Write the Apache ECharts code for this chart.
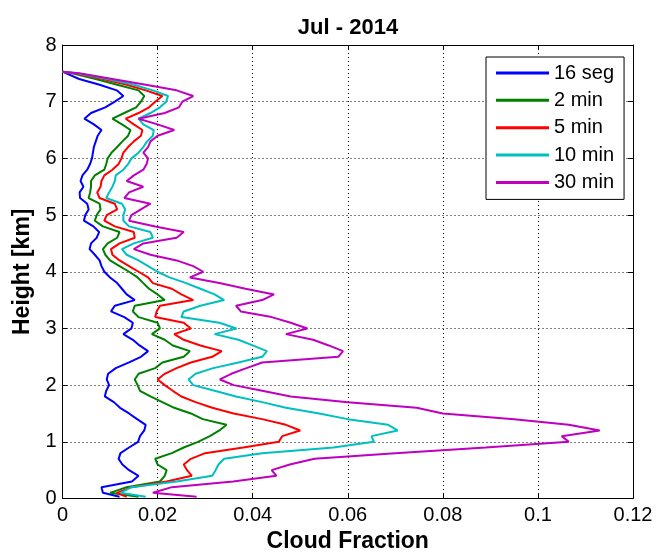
<!DOCTYPE html>
<html>
<head>
<meta charset="utf-8">
<script src="https://cdn.jsdelivr.net/npm/echarts@6/dist/echarts.min.js"></script>
<style>
html,body{margin:0;padding:0;background:#fff;}
#chart{width:657px;height:554px;}
</style>
</head>
<body>
<div id="chart"></div>
<script>
const heights = [0.03,0.1,0.2,0.3,0.4,0.5,0.6,0.7,0.8,0.9,1.0,1.1,1.2,1.3,1.4,1.5,1.6,1.7,1.8,1.9,2.0,2.1,2.2,2.3,2.4,2.5,2.6,2.7,2.8,2.9,3.0,3.1,3.2,3.3,3.4,3.5,3.6,3.7,3.8,3.9,4.0,4.1,4.2,4.3,4.4,4.5,4.6,4.7,4.8,4.9,5.0,5.1,5.2,5.3,5.4,5.5,5.6,5.7,5.8,5.9,6.0,6.1,6.2,6.3,6.4,6.5,6.6,6.7,6.8,6.9,7.0,7.1,7.2,7.3,7.4,7.5,7.53];

const seg16 = [0.012,0.0085,0.0082,0.0146,0.016,0.014,0.0126,0.0118,0.0122,0.014,0.0159,0.0163,0.0172,0.0175,0.0157,0.014,0.0121,0.0108,0.0089,0.0092,0.0098,0.0093,0.0096,0.0112,0.014,0.0165,0.018,0.0162,0.0148,0.0128,0.0145,0.0148,0.013,0.0102,0.011,0.0152,0.0135,0.0125,0.0115,0.01,0.0088,0.0082,0.0078,0.0068,0.0057,0.006,0.0072,0.0077,0.0065,0.0045,0.0048,0.0055,0.0052,0.0037,0.0036,0.0044,0.0038,0.0042,0.0052,0.0058,0.0062,0.0064,0.0066,0.007,0.0074,0.0082,0.0066,0.0046,0.006,0.009,0.011,0.0128,0.0114,0.0078,0.0035,0.0008,0];

const min2 = [0.016,0.01,0.0135,0.0205,0.0215,0.0219,0.02,0.0195,0.023,0.0255,0.0285,0.031,0.033,0.0345,0.0295,0.027,0.0235,0.021,0.0185,0.0163,0.0158,0.0152,0.016,0.0195,0.021,0.0255,0.0268,0.0232,0.0215,0.0188,0.0205,0.02,0.016,0.0148,0.0152,0.0215,0.02,0.0182,0.017,0.0158,0.014,0.012,0.01,0.009,0.0085,0.0095,0.0115,0.012,0.0085,0.0068,0.0072,0.008,0.0078,0.0055,0.0058,0.006,0.006,0.0068,0.0088,0.0092,0.0095,0.0103,0.0115,0.0126,0.0138,0.0143,0.0125,0.0105,0.013,0.0155,0.0165,0.0172,0.016,0.0115,0.007,0.002,0];

const min5 = [0.0135,0.0114,0.0145,0.0219,0.0272,0.0262,0.0255,0.027,0.03,0.038,0.0455,0.0462,0.05,0.047,0.042,0.036,0.0315,0.028,0.025,0.0232,0.0215,0.02,0.0215,0.024,0.027,0.0315,0.0335,0.029,0.0255,0.0235,0.027,0.0255,0.0195,0.0198,0.0205,0.0275,0.025,0.023,0.019,0.018,0.016,0.014,0.012,0.0105,0.0102,0.012,0.0152,0.015,0.011,0.0088,0.0093,0.0115,0.011,0.0078,0.0073,0.008,0.0082,0.0088,0.0105,0.0118,0.0124,0.0128,0.0138,0.015,0.0165,0.0168,0.015,0.0133,0.016,0.0182,0.0195,0.021,0.0175,0.0135,0.0085,0.0025,0];

const min10 = [0.0175,0.0122,0.0145,0.024,0.0315,0.0322,0.0328,0.034,0.042,0.057,0.0655,0.065,0.0705,0.0685,0.06,0.054,0.047,0.042,0.0365,0.032,0.0275,0.0265,0.028,0.0317,0.037,0.042,0.043,0.04,0.037,0.032,0.0366,0.033,0.025,0.0255,0.029,0.034,0.032,0.029,0.026,0.0225,0.02,0.018,0.016,0.0135,0.0125,0.015,0.019,0.0185,0.014,0.0128,0.0128,0.0132,0.0125,0.0092,0.0098,0.0105,0.011,0.0112,0.0128,0.0138,0.0145,0.016,0.017,0.0178,0.019,0.0192,0.017,0.016,0.0185,0.0205,0.0218,0.0222,0.019,0.015,0.0095,0.003,0];

const min30 = [0.0282,0.019,0.023,0.0359,0.045,0.044,0.0478,0.053,0.07,0.089,0.1065,0.105,0.113,0.1065,0.095,0.08,0.0745,0.06,0.048,0.042,0.036,0.0331,0.0355,0.0387,0.042,0.058,0.059,0.056,0.0527,0.047,0.0515,0.048,0.044,0.0375,0.0365,0.042,0.0445,0.0385,0.033,0.0268,0.0296,0.0275,0.024,0.0185,0.015,0.017,0.024,0.0255,0.0195,0.014,0.0145,0.0165,0.0185,0.013,0.014,0.017,0.0135,0.015,0.017,0.0177,0.018,0.017,0.018,0.0185,0.02,0.0235,0.02,0.016,0.0215,0.0245,0.0252,0.0275,0.024,0.0175,0.0105,0.0035,0];

const seriesNames = ['16 seg','2 min','5 min','10 min','30 min'];
const seriesValues = [seg16, min2, min5, min10, min30];
const seriesColors = ['#0000ff','#008000','#ff0000','#00bfbf','#bf00bf'];
const xTicks = {min: 0, max: 0.12, interval: 0.02};
const yTicks = {min: 0, max: 8, interval: 1};

const FONT = 'Liberation Sans, Arial, sans-serif';
const chart = echarts.init(document.getElementById('chart'), null, {renderer: 'canvas'});

const gridRect = {left: 62.5, right: 24, top: 45, bottom: 55.5, containLabel: false, outerBoundsMode: 'none'};

function xAx(pos, labels) {
  return {
    type: 'value', position: pos, min: xTicks.min, max: xTicks.max, interval: xTicks.interval,
    axisLine: {show: true, onZero: false, lineStyle: {color: '#000', width: 1}},
    axisTick: {show: true, inside: true, length: 5, lineStyle: {color: '#000'}},
    axisLabel: {show: labels, color: '#000', fontFamily: FONT, fontSize: 20, margin: 7},
    splitLine: {show: labels, lineStyle: {color: '#000', width: 1, type: [1, 3]}},
    name: labels ? 'Cloud Fraction' : '', nameLocation: 'middle', nameGap: 31,
    nameTextStyle: {color: '#000', fontFamily: FONT, fontSize: 23, fontWeight: 'bold'}
  };
}
function yAx(pos, labels) {
  return {
    type: 'value', position: pos, min: yTicks.min, max: yTicks.max, interval: yTicks.interval,
    axisLine: {show: true, onZero: false, lineStyle: {color: '#000', width: 1}},
    axisTick: {show: true, inside: true, length: 5, lineStyle: {color: '#000'}},
    axisLabel: {show: labels, color: '#000', fontFamily: FONT, fontSize: 20, margin: 6},
    splitLine: {show: labels, lineStyle: {color: '#000', width: 1, type: [1, 3]}},
    name: labels ? 'Height [km]' : '', nameLocation: 'middle', nameGap: 25,
    nameTextStyle: {color: '#000', fontFamily: FONT, fontSize: 23, fontWeight: 'bold'}
  };
}

const option = {
  animation: false,
  backgroundColor: '#fff',
  title: {
    text: 'Jul - 2014', left: 343, top: 12, textAlign: 'center',
    textStyle: {color: '#000', fontFamily: FONT, fontSize: 22, fontWeight: 'bold'}
  },
  grid: gridRect,
  xAxis: [xAx('bottom', true), xAx('top', false)],
  yAxis: [yAx('left', true), yAx('right', false)],
  legend: {
    orient: 'vertical', left: 486, top: 57,
    padding: [5, 10, 6, 10],
    backgroundColor: '#fff', borderColor: '#000', borderWidth: 1,
    itemWidth: 53, itemHeight: 3, itemGap: 5.35, icon: 'rect',
    textStyle: {color: '#000', fontFamily: FONT, fontSize: 20, lineHeight: 22},
    data: seriesNames
  },
  series: seriesNames.map((name, k) => ({
    name: name, type: 'line', xAxisIndex: 0, yAxisIndex: 0,
    showSymbol: false, symbol: 'none',
    color: seriesColors[k],
    lineStyle: {color: seriesColors[k], width: 2},
    data: heights.map((h, i) => [seriesValues[k][i], h])
  }))
};
chart.setOption(option);
</script>
</body>
</html>
